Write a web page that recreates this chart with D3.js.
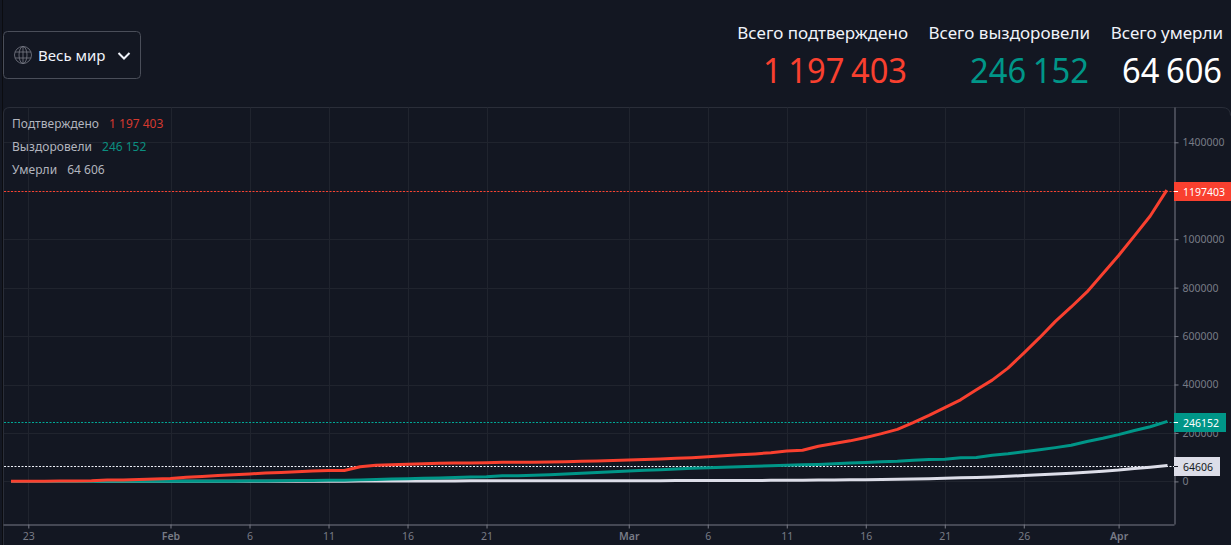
<!DOCTYPE html>
<html><head><meta charset="utf-8">
<script src="https://cdn.jsdelivr.net/npm/d3@7"></script>
<style>
html,body{margin:0;padding:0;background:#131722;overflow:hidden}
svg{display:block}
text{font-family:"Noto Sans","Open Sans",sans-serif}
</style></head><body>
<svg id="c" width="1231" height="545"></svg>
<script>
const startDate = "2020-01-22";
const confirmed = [555,654,941,1434,2118,2927,5578,6166,8234,9927,
12038,16787,19881,23892,27635,30794,34391,37120,40150,42762,
44802,45221,60368,66885,69030,71224,73258,75136,75639,76197,
76819,78572,78958,79561,80406,81388,82746,84112,86011,88369,
90306,92840,95120,97886,101784,105821,109795,113561,118592,125865,
128343,145193,156099,167447,181546,197102,214821,242570,272208,304507,
336953,378235,418045,467653,529591,593291,660706,720117,782365,857487,
932605,1013466,1095917,1197403];
const recovered = [28,30,36,39,52,61,107,126,143,222,
284,472,623,852,1124,1487,2011,2616,3244,3946,
4683,5150,6295,8058,9395,10865,12583,14352,16121,18177,
18890,22886,23394,25227,27905,30384,33277,36711,39782,42716,
45602,48228,51170,53796,55865,58358,60694,62494,64404,67003,
68324,70251,72624,76034,78088,80840,83207,87256,89954,91676,
97243,98351,107890,113787,122150,130915,139415,149082,164566,178034,
193177,210263,225796,246152];
const deaths = [17,18,26,42,56,82,131,133,171,213,
259,362,426,492,564,634,719,806,906,1013,
1113,1118,1371,1523,1666,1770,1868,2007,2122,2247,
2251,2458,2469,2629,2708,2770,2814,2872,2941,2996,
3085,3160,3254,3348,3460,3558,3802,3988,4262,4615,
4720,5404,5819,6440,7126,7905,8733,9867,11299,12973,
14623,16497,18615,21181,23970,27198,30652,33925,37582,42107,
46809,52983,58787,64606];
const seriesNames = ["Подтверждено","Выздоровели","Умерли"];
const headerNames = ["Всего подтверждено","Всего выздоровели","Всего умерли"];
const totals = [1197403,246152,64606];
const totalLabels = ["1 197 403","246 152","64 606"];
const yTicks = [0,200000,400000,600000,800000,1000000,1200000,1400000];
const xTickDates = ["2020-01-23","2020-02-01","2020-02-06","2020-02-11","2020-02-16","2020-02-21","2020-03-01","2020-03-06","2020-03-11","2020-03-16","2020-03-21","2020-03-26","2020-04-01"];
const xTickLabels = ["23","Feb","6","11","16","21","Mar","6","11","16","21","26","Apr"];
const regionLabel = "Весь мир";

const colors = ["#f9402f","#009688","#dcdde8"];
const dotColors = ["#f9402f","#00a896","#f0f3fa"];
const legendColors = ["#d5392f","#0b8f80","#b2b5be"];
const parse = d3.utcParse("%Y-%m-%d");
const t0 = parse(startDate);
const dateAt = i => d3.utcDay.offset(t0,i);

const svg = d3.select("#c");
const L=4,R=1174.5,T=107.5,B=524.5;
const x = d3.scaleUtc().domain([parse("2020-01-23"),parse("2020-04-01")]).range([28.3,1118.6]);
const y = d3.scaleLinear().domain([0,1400000]).range([481.4,142.3]);
const crisp = v => Math.round(v)+0.5;

// page edge and frame
svg.append("line").attr("x1",2.5).attr("x2",2.5).attr("y1",0).attr("y2",545).attr("stroke","#0b0c10");
svg.append("path").attr("d",`M${L-0.5},${T+6}Q${L-0.5},${T} ${L+6},${T}H1222Q1230.5,${T} 1230.5,${T+8}`)
  .attr("fill","none").attr("stroke","#2a2e39");
svg.append("line").attr("x1",L-0.5).attr("x2",L-0.5).attr("y1",T+5).attr("y2",545).attr("stroke","#2a2e39");

// grid
const grid = svg.append("g").attr("stroke","#20242e").attr("stroke-width",1);
grid.selectAll(".h").data(yTicks).join("line").attr("x1",L).attr("x2",R)
  .attr("y1",d=>crisp(y(d))).attr("y2",d=>crisp(y(d)));
grid.selectAll(".v").data(xTickDates).join("line").attr("y1",T).attr("y2",B)
  .attr("x1",d=>crisp(x(parse(d)))).attr("x2",d=>crisp(x(parse(d))));

// axes
const axisCol="#787b86";
const yAxis = svg.append("g").attr("transform",`translate(${R},0)`)
  .call(d3.axisRight(y).tickValues(yTicks).tickSize(4).tickPadding(4).tickFormat(d3.format("d")));
const xAxis = svg.append("g").attr("transform",`translate(0,${B})`)
  .call(d3.axisBottom(x).tickValues(xTickDates.map(parse)).tickSize(4).tickPadding(4)
     .tickFormat((d,i)=>xTickLabels[i]));
[yAxis,xAxis].forEach(a=>{
  a.selectAll("text").attr("fill",axisCol).style("font-size","10.5px").style("font-family",'"Noto Sans",sans-serif');
  a.selectAll("line").attr("stroke",axisCol);
  a.select(".domain").attr("stroke",axisCol);
});
yAxis.select(".domain").attr("d",`M0.5,${T}V${B}`);
xAxis.select(".domain").attr("d",`M${L-0.5},0.5H${R}`);
xAxis.selectAll("text").filter(function(){return /[A-Za-z]/.test(this.textContent)}).style("font-weight","600");

// dotted price lines + series
const seriesData=[confirmed,recovered,deaths];
const line = d3.line().x((d,i)=>x(dateAt(i))).y(d=>y(d)).curve(d3.curveLinear);
[2,1,0].forEach(k=>{
  const yy=crisp(y(totals[k]));
  svg.append("line").attr("x1",L).attr("x2",R).attr("y1",yy).attr("y2",yy)
    .attr("stroke",dotColors[k]).attr("stroke-dasharray","2 1.5");
});
[2,1,0].forEach(k=>{
  svg.append("path").datum(seriesData[k]).attr("d",line).attr("fill","none")
    .attr("stroke",colors[k]).attr("stroke-width",3).attr("stroke-linejoin","round").attr("stroke-linecap","square");
});

// last value labels
const tagW=[57,52,46];
[2,1,0].forEach(k=>{
  const cy=crisp(y(totals[k]));
  const g=svg.append("g").attr("transform",`translate(${R-0.5},${cy})`);
  g.append("rect").attr("x",0).attr("y",-9.5).attr("width",tagW[k]).attr("height",19).attr("fill",colors[k]);
  g.append("line").attr("x1",0).attr("x2",4).attr("y1",0).attr("y2",0).attr("stroke",k==2?"#131722":"#fff");
  g.append("text").attr("x",9).attr("y",4).attr("fill",k==2?"#131722":"#fff").style("font-size","10.5px").text(totals[k]);
});

// legend
const lg=svg.append("g");
seriesNames.forEach((n,i)=>{
  const t=lg.append("text").attr("x",12).attr("y",128+i*23).style("font-size","12px");
  t.append("tspan").attr("fill","#b2b5be").style("letter-spacing","0.05px").text(n);
  t.append("tspan").attr("dx",10).attr("fill",legendColors[i]).text(totalLabels[i]);
});

// header
const rights=[908,1090,1223];
const valueWidths=[144,119,100];
headerNames.forEach((n,i)=>{
  svg.append("text").attr("x",rights[i]).attr("y",39).attr("text-anchor","end")
    .attr("fill","#f0f3fa").style("font-size","17px").text(n);
  svg.append("text").attr("x",rights[i]-1).attr("y",82.5).attr("text-anchor","end")
    .attr("fill",i==2?"#ffffff":colors[i]).style("font-size","35px").style("word-spacing","-2px")
    .attr("textLength",valueWidths[i]).attr("lengthAdjust","spacingAndGlyphs").text(totalLabels[i]);
});

// dropdown
svg.append("rect").attr("x",3.5).attr("y",31.5).attr("width",137).attr("height",47).attr("rx",4)
  .attr("fill","none").attr("stroke","#4a4e59");
const gl=svg.append("g").attr("transform","translate(23,55)").attr("fill","none").attr("stroke","#787b86").attr("stroke-width",0.8);
gl.append("circle").attr("r",8.5);
gl.append("ellipse").attr("rx",4).attr("ry",8.5);
gl.append("line").attr("x1",0).attr("x2",0).attr("y1",-8.5).attr("y2",8.5);
[-3,3].forEach(v=>gl.append("line").attr("x1",-8).attr("x2",8).attr("y1",v).attr("y2",v));
svg.append("text").attr("x",38).attr("y",61).attr("fill","#f0f3fa").style("font-size","15px").text(regionLabel);
svg.append("path").attr("d","M118.5,53L124,58.5L129.5,53").attr("fill","none").attr("stroke","#f0f3fa").attr("stroke-width",2);
</script></body></html>
